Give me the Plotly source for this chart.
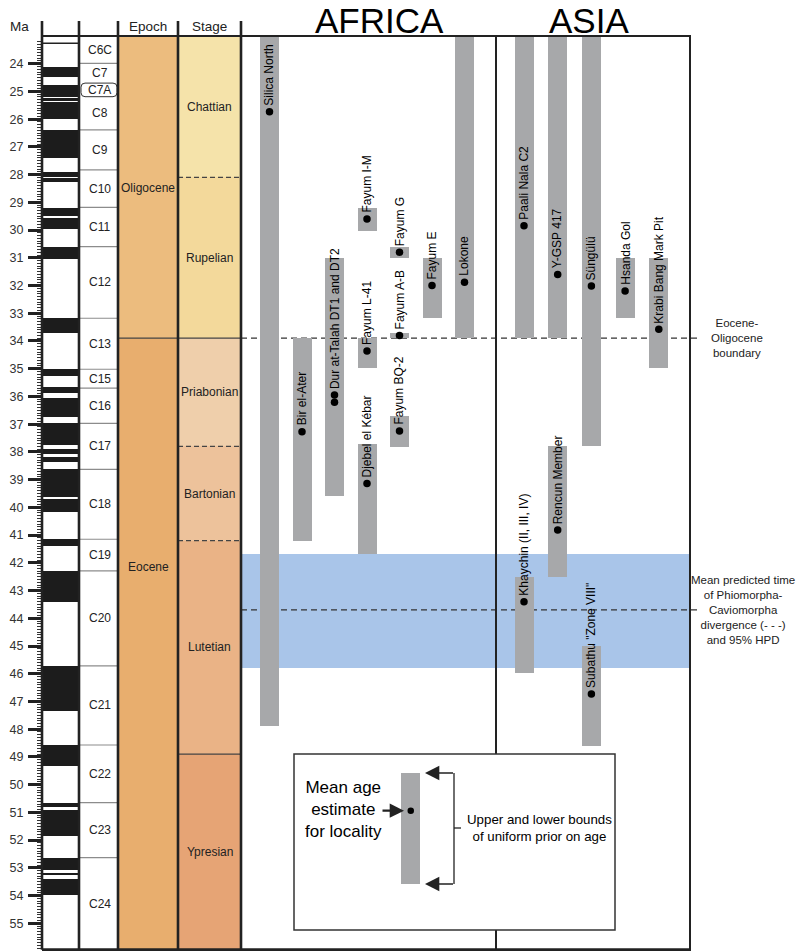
import plotly.graph_objects as go

# ---------------- data ----------------
ma_ticks = list(range(24, 56))

# normal-polarity (black) intervals, Ma
normal_top = [24.11, 24.77, 25.26, 25.39, 26.39, 27.89, 28.14, 29.21, 29.55, 30.60,
              33.18, 35.02, 35.67, 36.07, 36.97, 37.89, 38.17, 38.62, 39.71, 41.15,
              42.29, 45.72, 48.57, 50.65, 50.92, 52.63, 53.20, 53.42]
normal_base = [24.47, 25.19, 25.33, 26.00, 27.41, 28.07, 28.25, 29.49, 29.96, 31.05,
               33.70, 35.28, 35.88, 36.73, 37.75, 38.08, 38.35, 39.64, 40.16, 41.39,
               43.42, 47.33, 49.33, 50.82, 51.84, 53.08, 53.26, 53.98]

chron_names = ['C6C', 'C7', 'C7A', 'C8', 'C9', 'C10', 'C11', 'C12', 'C13', 'C15',
               'C16', 'C17', 'C18', 'C19', 'C20', 'C21', 'C22', 'C23', 'C24']
chron_bounds = [23.0, 23.99, 24.70, 25.19, 26.39, 27.83, 29.18, 30.60, 33.18, 35.02,
                35.70, 36.97, 38.63, 41.15, 42.29, 45.72, 48.57, 50.65, 52.63, 55.95]

epoch_names = ['Oligocene', 'Eocene']
epoch_bounds = [23.0, 33.9, 55.95]
epoch_label_ma = [28.5, 42.15]

stage_names = ['Chattian', 'Rupelian', 'Priabonian', 'Bartonian', 'Lutetian', 'Ypresian']
stage_bounds = [23.0, 28.1, 33.9, 37.8, 41.2, 48.9, 55.95]
stage_bound_dashed = [True, False, True, True, False]

africa_sites = ['Silica North', 'Bir el-Ater', 'Dur at-Talah DT1 and DT2', 'Fayum I-M',
                'Fayum L-41', 'Djebel el Kébar', 'Fayum G', 'Fayum A-B', 'Fayum BQ-2',
                'Fayum E', 'Lokone']
africa_upper = [23.0, 33.9, 31.02, 29.19, 33.9, 37.71, 30.60, 33.70, 36.69, 31.02, 23.0]
africa_lower = [47.9, 41.2, 39.58, 30.03, 34.96, 41.69, 31.02, 33.90, 37.81, 33.18, 33.9]
africa_mean = [[25.73], [37.27], [35.95, 36.21], [29.60], [34.36], [39.14], [30.80],
               [33.80], [37.25], [32.00], [31.88]]
africa_lane = [0, 1, 2, 3, 3, 3, 4, 4, 4, 5, 6]

asia_sites = ['Paali Nala C2', 'Y-GSP 417', 'Süngülü', 'Hsanda Gol', 'Krabi Bang Mark Pit',
              'Rencun Member', 'Khaychin (II, III, IV)', 'Subathu "Zone VIII"']
asia_upper = [23.0, 23.0, 23.0, 31.02, 31.02, 37.79, 42.52, 45.0]
asia_lower = [33.9, 33.9, 37.79, 33.18, 34.99, 42.50, 45.97, 48.6]
asia_mean = [[29.84], [31.60], [32.02], [32.20], [33.58], [40.82], [43.40], [46.73]]
asia_lane = [0, 1, 2, 3, 4, 1, 0, 2]

hpd_upper, hpd_lower = 41.68, 45.79
mean_divergence = 43.7
eo_boundary = 33.9

# ---------------- layout constants ----------------
W, H = 800, 952
Y_TOP, Y_BOT = 21.703, 56.035
TOP, BOT = 23.0, 55.95
FONT = 'Liberation Sans, Arial, sans-serif'
GRAY = '#a7a8aa'
LINE = '#222222'
X_POL, X_CHR, X_EPO, X_STG = (42, 79), (79, 118), (118, 178), (178, 241)
X_AF, X_AS = (241, 496), (496, 690)
AF_LANE0, AF_STEP = 269.5, 32.5
AS_LANE0, AS_STEP = 524.0, 33.7
BAR_W = 19
epoch_colors = ['#ecbc7e', '#e8ae6e']
stage_colors = ['#f5e3aa', '#f3d99b', '#efcfab', '#edc29b', '#eab386', '#e6a475']


def yp(py):
    return 1 - py / H


fig = go.Figure()

# polarity column
fig.add_trace(go.Bar(x=[sum(X_POL) / 2] * len(normal_top), base=normal_top,
                     y=[b - t for t, b in zip(normal_top, normal_base)],
                     width=X_POL[1] - X_POL[0], marker=dict(color='#1c1c1c', line_width=0),
                     hoverinfo='skip', showlegend=False))
# epochs
fig.add_trace(go.Bar(x=[sum(X_EPO) / 2] * len(epoch_names), base=epoch_bounds[:-1],
                     y=[b - t for t, b in zip(epoch_bounds[:-1], epoch_bounds[1:])],
                     width=X_EPO[1] - X_EPO[0], marker=dict(color=epoch_colors, line_width=0),
                     hoverinfo='skip', showlegend=False))
# stages
fig.add_trace(go.Bar(x=[sum(X_STG) / 2] * len(stage_names), base=stage_bounds[:-1],
                     y=[b - t for t, b in zip(stage_bounds[:-1], stage_bounds[1:])],
                     width=X_STG[1] - X_STG[0], marker=dict(color=stage_colors, line_width=0),
                     hoverinfo='skip', showlegend=False))

annotations = []


def add_sites(names, upper, lower, means, lanes, x0, step):
    xs = [x0 + step * l for l in lanes]
    fig.add_trace(go.Bar(x=xs, base=upper, y=[b - t for t, b in zip(upper, lower)],
                         width=BAR_W, marker=dict(color=GRAY, line_width=0),
                         hoverinfo='skip', showlegend=False))
    dx, dy = [], []
    for x, m in zip(xs, means):
        for v in m:
            dx.append(x)
            dy.append(v)
    fig.add_trace(go.Scatter(x=dx, y=dy, mode='markers',
                             marker=dict(color='black', size=7.5, line_width=0),
                             hoverinfo='skip', showlegend=False))
    for x, m, n in zip(xs, means, names):
        annotations.append(dict(x=x, y=min(m), xref='x', yref='y', text=n, textangle=-90,
                                showarrow=False, xanchor='center', yanchor='bottom', yshift=4,
                                font=dict(size=12, color='black', family=FONT)))


add_sites(africa_sites, africa_upper, africa_lower, africa_mean, africa_lane, AF_LANE0, AF_STEP)
add_sites(asia_sites, asia_upper, asia_lower, asia_mean, asia_lane, AS_LANE0, AS_STEP)

shapes = []
# HPD band and dashed lines (below traces)
shapes.append(dict(type='rect', xref='x', yref='y', x0=X_AF[0], x1=X_AS[1], y0=hpd_upper,
                   y1=hpd_lower, fillcolor='#a9c5e9', line_width=0, layer='below'))
for yv in (eo_boundary, mean_divergence):
    shapes.append(dict(type='line', xref='x', yref='y', x0=X_AF[0], x1=701, y0=yv, y1=yv,
                       line=dict(color='#333', width=1.2, dash='6px,4px'), layer='below'))

# chron boundaries
for i, b in enumerate(chron_bounds[1:-1], start=1):
    if chron_names[i] == 'C7A' or chron_names[i - 1] == 'C7A':
        continue
    shapes.append(dict(type='line', xref='x', yref='y', x0=X_CHR[0], x1=X_CHR[1], y0=b, y1=b,
                       line=dict(color='#8c8c8c', width=1.2), layer='above'))
# C7A rounded box
i7 = chron_names.index('C7A')
t7, b7 = chron_bounds[i7], chron_bounds[i7 + 1]
rx, ry = 4, 4 / 27.73
xa, xb = X_CHR[0] + 2, X_CHR[1] - 1
path = (f'M {xa+rx},{t7} L {xb-rx},{t7} Q {xb},{t7} {xb},{t7+ry} L {xb},{b7-ry} '
        f'Q {xb},{b7} {xb-rx},{b7} L {xa+rx},{b7} Q {xa},{b7} {xa},{b7-ry} '
        f'L {xa},{t7+ry} Q {xa},{t7} {xa+rx},{t7} Z')
shapes.append(dict(type='path', xref='x', yref='y', path=path, fillcolor='white',
                   line=dict(color='#333', width=1), layer='above'))
# polarity record top line
shapes.append(dict(type='line', xref='x', yref='y', x0=X_POL[0], x1=X_POL[1], y0=23.26, y1=23.26,
                   line=dict(color=LINE, width=1.5), layer='above'))
# epoch boundary
shapes.append(dict(type='line', xref='x', yref='y', x0=X_EPO[0], x1=X_STG[1], y0=epoch_bounds[1],
                   y1=epoch_bounds[1], line=dict(color='#444', width=1.2), layer='above'))
# stage boundaries
for b, d in zip(stage_bounds[1:-1], stage_bound_dashed):
    if b == epoch_bounds[1]:
        continue
    shapes.append(dict(type='line', xref='x', yref='y', x0=X_STG[0], x1=X_STG[1], y0=b, y1=b,
                       line=dict(color='#444', width=1.1, dash='5px,3px' if d else 'solid'),
                       layer='above'))
# frames
for xv in (42, 79, 118, 178, 241):
    shapes.append(dict(type='line', xref='x', yref='y', x0=xv, x1=xv, y0=22.46, y1=BOT,
                       line=dict(color=LINE, width=2.6), layer='above'))
for xv in (496, 690):
    shapes.append(dict(type='line', xref='x', yref='y', x0=xv, x1=xv, y0=TOP, y1=BOT,
                       line=dict(color=LINE, width=2), layer='above'))
shapes.append(dict(type='line', xref='x', yref='y', x0=42, x1=691, y0=TOP, y1=TOP,
                   line=dict(color=LINE, width=2), layer='above'))
shapes.append(dict(type='line', xref='x', yref='y', x0=42, x1=691, y0=BOT, y1=BOT,
                   line=dict(color=LINE, width=2.6), layer='above'))

# legend box
shapes.append(dict(type='rect', xref='x', yref='paper', x0=294, x1=615, y0=yp(930), y1=yp(754),
                   fillcolor='white', line=dict(color='#333', width=1.5), layer='above'))
shapes.append(dict(type='rect', xref='x', yref='paper', x0=401, x1=420, y0=yp(884), y1=yp(773),
                   fillcolor=GRAY, line_width=0, layer='above'))
shapes.append(dict(type='circle', xref='x', yref='paper', x0=407.5, x1=414, y0=yp(814), y1=yp(807.5),
                   fillcolor='black', line_width=0, layer='above'))
shapes.append(dict(type='line', xref='x', yref='paper', x0=454, x1=454, y0=yp(884), y1=yp(773),
                   line=dict(color='#222', width=1.3), layer='above'))
shapes.append(dict(type='line', xref='x', yref='paper', x0=454, x1=461, y0=yp(828), y1=yp(828),
                   line=dict(color='#222', width=1.3), layer='above'))

# chron labels
for i, n in enumerate(chron_names):
    annotations.append(dict(x=sum(X_CHR) / 2 + 1, y=(chron_bounds[i] + chron_bounds[i + 1]) / 2,
                            xref='x', yref='y', text=n, showarrow=False,
                            font=dict(size=12, color='#222', family=FONT)))
for n, m in zip(epoch_names, epoch_label_ma):
    annotations.append(dict(x=sum(X_EPO) / 2, y=m, xref='x', yref='y', text=n, showarrow=False,
                            font=dict(size=12, color='#222', family=FONT)))
for i, n in enumerate(stage_names):
    annotations.append(dict(x=sum(X_STG) / 2, y=(stage_bounds[i] + stage_bounds[i + 1]) / 2,
                            xref='x', yref='y', text=n, showarrow=False,
                            font=dict(size=12, color='#222', family=FONT)))

# headers
for txt, x in (('Ma', 19), ('Epoch', 148), ('Stage', 209.5)):
    annotations.append(dict(x=x, y=yp(26), xref='x', yref='paper', text=txt, showarrow=False,
                            yanchor='middle', font=dict(size=13.5, color='#222', family=FONT)))
for txt, x in (('AFRICA', 379), ('ASIA', 589)):
    annotations.append(dict(x=x, y=1, xref='x', yref='paper', text=txt, showarrow=False,
                            yanchor='top', borderpad=0,
                            font=dict(size=35, color='black', family=FONT)))

# right-hand notes
annotations.append(dict(x=737, y=eo_boundary, xref='x', yref='y',
                        text='Eocene-<br>Oligocene<br>boundary', showarrow=False,
                        font=dict(size=11.5, color='#222', family=FONT)))
annotations.append(dict(x=743, y=mean_divergence, xref='x', yref='y',
                        text='Mean predicted time<br>of Phiomorpha-<br>Caviomorpha<br>divergence (- - -)<br>and 95% HPD',
                        showarrow=False, font=dict(size=11.5, color='#222', family=FONT)))

# legend texts and arrows
annotations.append(dict(x=343, y=yp(809), xref='x', yref='paper', yanchor='middle',
                        text='Mean age<br>estimate<br>for locality', showarrow=False,
                        font=dict(size=17, color='black', family=FONT)))
annotations.append(dict(x=404, y=yp(810.7), xref='x', yref='paper', text='', showarrow=True,
                        ax=-23, ay=0, arrowhead=2, arrowsize=1.3, arrowwidth=2.2, arrowcolor='#222'))
for pyv in (773, 884):
    annotations.append(dict(x=425, y=yp(pyv), xref='x', yref='paper', text='', showarrow=True,
                            ax=29.5, ay=0, arrowhead=2, arrowsize=2.2, arrowwidth=1.3,
                            arrowcolor='#222'))
annotations.append(dict(x=465, y=yp(828), xref='x', yref='paper', yanchor='middle',
                        text='Upper and lower bounds<br>of uniform prior on age', showarrow=False,
                        xanchor='left', font=dict(size=13.3, color='black', family=FONT)))

minor_vals = [round(23.2 + 0.1 * i, 1) for i in range(0, 328)]
minor_vals = [v for v in minor_vals if abs(v - round(v)) > 1e-6 and v <= 55.9]

fig.update_layout(
    width=W, height=H, margin=dict(l=0, r=0, t=0, b=0, pad=0, autoexpand=False),
    paper_bgcolor='white', plot_bgcolor='white', barmode='overlay', bargap=0,
    hovermode=False, showlegend=False, shapes=shapes, annotations=annotations,
    font=dict(family=FONT),
    xaxis=dict(range=[0, W], visible=False, fixedrange=True),
    yaxis=dict(range=[Y_BOT, Y_TOP], anchor='free', position=42 / W, tickmode='array',
               tickvals=ma_ticks, ticks='outside', ticklen=14, tickwidth=2.6, tickcolor=LINE,
               ticklabelstandoff=2,
               tickfont=dict(size=12.5, color='#333', family=FONT), showgrid=False,
               zeroline=False, showline=False, automargin=False,
               minor=dict(tickmode='array', tickvals=minor_vals, ticks='outside', ticklen=5,
                          tickwidth=1, tickcolor='#333', showgrid=False)),
)

fig.write_html('out.html', post_script="document.body.style.margin='0';",
               config={'displayModeBar': False})
